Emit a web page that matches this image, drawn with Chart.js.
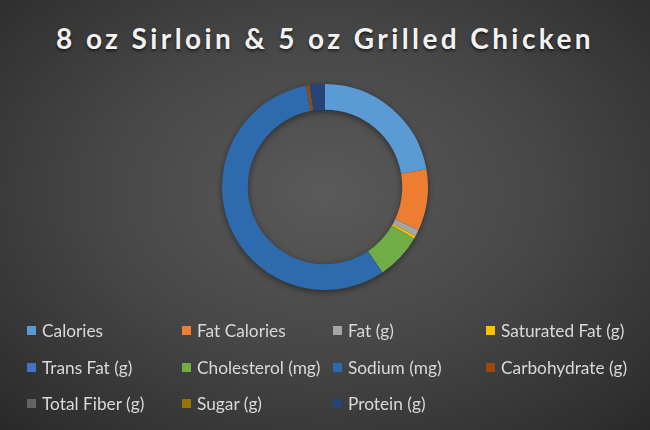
<!DOCTYPE html>
<html>
<head>
<meta charset="utf-8">
<script src="https://cdn.jsdelivr.net/npm/chart.js@4"></script>
<style>
  html, body { margin: 0; padding: 0; }
  body {
    width: 650px; height: 430px; overflow: hidden; position: relative;
    background: radial-gradient(ellipse 75% 80% at 50% 45%, #5a5a5a 0%, #474747 45%, #303030 85%, #262626 100%);
    font-family: Lato, "Open Sans", sans-serif;
  }
  #title {
    position: absolute; left: 0; top: 20px; width: 650px; text-align: center;
    color: #f2f2f2; font-family: Lato, sans-serif; font-weight: bold; font-size: 28px;
    letter-spacing: 3.4px; line-height: 36px;
    text-shadow: 0 2px 3px rgba(0,0,0,0.6);
  }
  #wrap {
    position: absolute; left: 222px; top: 84px; width: 206px; height: 206px;
    filter: drop-shadow(0 2px 3px rgba(0,0,0,0.45));
  }
  #legend { position: absolute; left: 0; top: 0; width: 650px; height: 430px; pointer-events: none; }
  .item { position: absolute; height: 20px; display: flex; align-items: center; color: #d9d9d9; font-size: 17.3px; white-space: nowrap; }
  .box { width: 9px; height: 9px; margin-right: 6px; }
</style>
</head>
<body>
<div id="title">8 oz Sirloin &amp; 5 oz Grilled Chicken</div>
<div id="wrap"><canvas id="c"></canvas></div>
<div id="legend"></div>
<script>
const labels = ["Calories", "Fat Calories", "Fat (g)", "Saturated Fat (g)", "Trans Fat (g)", "Cholesterol (mg)", "Sodium (mg)", "Carbohydrate (g)", "Total Fiber (g)", "Sugar (g)", "Protein (g)"];
const values = [520, 225, 25, 9, 0, 170, 1320, 10, 1, 2, 56];
const colors = ["#5B9BD5", "#ED7D31", "#A5A5A5", "#FFC000", "#4472C4", "#70AD47", "#2E6BAE", "#9E480E", "#636363", "#997300", "#264478"];

// legend grid (4 columns x 3 rows)
const colX = [27, 182, 333, 486];
const rowY = [320, 357, 393];
const legend = document.getElementById('legend');
labels.forEach((lab, i) => {
  const d = document.createElement('div');
  d.className = 'item';
  d.style.left = colX[i % 4] + 'px';
  d.style.top = rowY[Math.floor(i / 4)] + 'px';
  const b = document.createElement('span');
  b.className = 'box';
  b.style.background = colors[i];
  const t = document.createElement('span');
  t.textContent = lab;
  d.appendChild(b); d.appendChild(t);
  legend.appendChild(d);
});

new Chart(document.getElementById('c'), {
  type: 'doughnut',
  data: {
    labels: labels,
    datasets: [{
      data: values,
      backgroundColor: colors,
      borderWidth: 0
    }]
  },
  options: {
    responsive: true,
    maintainAspectRatio: false,
    animation: false,
    cutout: '75%',
    layout: { padding: 0 },
    plugins: {
      legend: { display: false },
      title: { display: false },
      tooltip: { enabled: false }
    }
  }
});
</script>
</body>
</html>
